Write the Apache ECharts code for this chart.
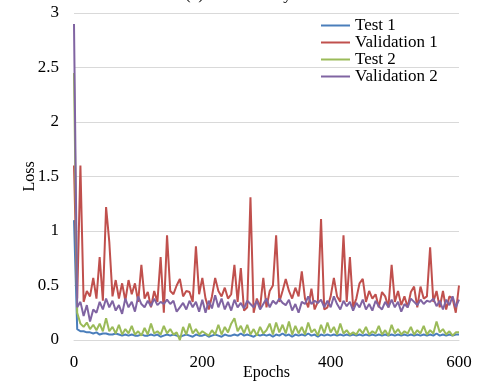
<!DOCTYPE html>
<html>
<head>
<meta charset="utf-8">
<script src="https://cdn.jsdelivr.net/npm/echarts@6/dist/echarts.min.js"></script>
<style>
  html, body { margin: 0; padding: 0; background: #fff; }
  #chart { width: 478px; height: 381px; }
</style>
</head>
<body>
<div id="chart"></div>
<script>
// loss per epoch, sampled every 5 epochs (0..600)
const EPOCHS = Array.from({ length: 121 }, (_, i) => i * 5);

const TEST_1 = [
  1.10, 0.10, 0.08, 0.08, 0.07, 0.07, 0.06, 0.07, 0.05, 0.06,
  0.06, 0.05, 0.05, 0.06, 0.05, 0.04, 0.05, 0.04, 0.05, 0.04,
  0.04, 0.05, 0.04, 0.04, 0.05, 0.04, 0.05, 0.03, 0.04, 0.05,
  0.04, 0.05, 0.04, 0.03, 0.04, 0.05, 0.04, 0.03, 0.05, 0.04,
  0.04, 0.05, 0.03, 0.04, 0.05, 0.04, 0.03, 0.05, 0.04, 0.04,
  0.05, 0.04, 0.06, 0.04, 0.05, 0.04, 0.03, 0.05, 0.04, 0.05,
  0.04, 0.05, 0.03, 0.05, 0.04, 0.06, 0.04, 0.05, 0.03, 0.05,
  0.04, 0.05, 0.04, 0.06, 0.04, 0.05, 0.03, 0.05, 0.04, 0.05,
  0.04, 0.05, 0.04, 0.05, 0.04, 0.05, 0.04, 0.05, 0.04, 0.05,
  0.04, 0.05, 0.04, 0.05, 0.04, 0.05, 0.04, 0.05, 0.04, 0.05,
  0.04, 0.05, 0.04, 0.05, 0.04, 0.05, 0.04, 0.05, 0.04, 0.05,
  0.04, 0.05, 0.04, 0.06, 0.04, 0.05, 0.04, 0.05, 0.04, 0.05,
  0.05
];

const VALIDATION_1 = [
  1.60, 0.38, 1.60, 0.35, 0.45, 0.40, 0.57, 0.38, 0.76, 0.36,
  1.22, 0.90, 0.40, 0.55, 0.38, 0.52, 0.36, 0.55, 0.42, 0.52,
  0.35, 0.69, 0.38, 0.44, 0.30, 0.45, 0.35, 0.76, 0.25, 0.96,
  0.45, 0.42, 0.50, 0.56, 0.40, 0.45, 0.44, 0.35, 0.86, 0.42,
  0.57, 0.38, 0.28, 0.40, 0.57, 0.45, 0.40, 0.48, 0.38, 0.42,
  0.69, 0.35, 0.66, 0.27, 0.30, 1.31, 0.25, 0.38, 0.30, 0.57,
  0.30, 0.45, 0.50, 0.96, 0.35, 0.45, 0.56, 0.45, 0.38, 0.48,
  0.40, 0.63, 0.38, 0.30, 0.47, 0.28, 0.35, 1.11, 0.28, 0.30,
  0.40, 0.57, 0.40, 0.35, 0.96, 0.35, 0.76, 0.30, 0.38, 0.52,
  0.56, 0.35, 0.45, 0.38, 0.42, 0.30, 0.44, 0.40, 0.30, 0.69,
  0.35, 0.45, 0.32, 0.40, 0.30, 0.44, 0.49, 0.30, 0.49, 0.38,
  0.40, 0.85, 0.35, 0.45, 0.30, 0.45, 0.28, 0.40, 0.38, 0.25,
  0.50
];

const TEST_2 = [
  2.45, 0.25, 0.15, 0.12, 0.16, 0.10, 0.14, 0.09, 0.15, 0.08,
  0.20, 0.08, 0.12, 0.06, 0.14, 0.05, 0.10, 0.06, 0.13, 0.05,
  0.08, 0.04, 0.11, 0.05, 0.15, 0.06, 0.08, 0.05, 0.13, 0.06,
  0.10, 0.05, 0.07, 0.00, 0.12, 0.05, 0.15, 0.06, 0.10, 0.05,
  0.08, 0.06, 0.04, 0.09, 0.05, 0.14, 0.05, 0.12, 0.07, 0.15,
  0.20, 0.08, 0.13, 0.06, 0.14, 0.05, 0.10, 0.04, 0.12, 0.06,
  0.09, 0.15, 0.05, 0.16, 0.07, 0.14, 0.06, 0.17, 0.05, 0.13,
  0.06, 0.12, 0.05, 0.16, 0.07, 0.10, 0.04, 0.14, 0.06, 0.16,
  0.07, 0.12, 0.05, 0.15, 0.06, 0.09, 0.05, 0.07, 0.05, 0.10,
  0.06, 0.12, 0.05, 0.08, 0.06, 0.13, 0.05, 0.09, 0.04, 0.14,
  0.06, 0.10, 0.05, 0.08, 0.06, 0.12, 0.05, 0.09, 0.06, 0.13,
  0.05, 0.09, 0.06, 0.17, 0.07, 0.10, 0.05, 0.08, 0.04, 0.07,
  0.07
];

const VALIDATION_2 = [
  2.90, 0.30, 0.35, 0.22, 0.32, 0.17, 0.28, 0.25, 0.35, 0.28,
  0.38, 0.30, 0.36, 0.27, 0.32, 0.24, 0.38, 0.30, 0.35, 0.26,
  0.40, 0.33, 0.30, 0.36, 0.31, 0.38, 0.32, 0.35, 0.33, 0.37,
  0.33, 0.36, 0.26, 0.30, 0.34, 0.28, 0.36, 0.30, 0.35, 0.26,
  0.37, 0.25, 0.36, 0.29, 0.41, 0.30, 0.38, 0.28, 0.35, 0.27,
  0.37, 0.30, 0.34, 0.29, 0.36, 0.33, 0.30, 0.36, 0.28, 0.33,
  0.38, 0.30, 0.36, 0.33, 0.38, 0.34, 0.32, 0.37, 0.27, 0.33,
  0.25, 0.35, 0.33, 0.40, 0.33, 0.36, 0.34, 0.37, 0.30, 0.36,
  0.30, 0.40, 0.33, 0.28, 0.36, 0.31, 0.35, 0.27, 0.34, 0.30,
  0.37, 0.28, 0.33, 0.27, 0.36, 0.31, 0.28, 0.35, 0.30, 0.37,
  0.30, 0.35, 0.26, 0.33, 0.30, 0.38, 0.35, 0.32, 0.37, 0.33,
  0.36, 0.35, 0.38, 0.31, 0.36, 0.28, 0.37, 0.32, 0.40, 0.30,
  0.37
];

const SERIES_NAMES = ["Test 1", "Validation 1", "Test 2", "Validation 2"];
const SERIES_DATA = [TEST_1, VALIDATION_1, TEST_2, VALIDATION_2];
const COLORS = ["#4a7ebb", "#c0504d", "#9bbb59", "#8064a2"];

const FONT = "'Liberation Serif', 'Times New Roman', serif";

const chart = echarts.init(document.getElementById("chart"), null, { renderer: "canvas" });

chart.setOption({
  animation: false,
  backgroundColor: "#fff",
  color: COLORS,
  title: {
    text: "(a) Loss history",
    left: 180,
    top: -19,
    textStyle: { fontFamily: FONT, fontSize: 17, fontWeight: "normal", color: "#000" }
  },
  grid: { left: 74, right: 19, top: 13, bottom: 41, outerBoundsMode: "none", containLabel: false },
  legend: {
    orient: "vertical",
    left: 316,
    top: 12,
    itemWidth: 29,
    itemHeight: 2,
    itemGap: 0,
    icon: "rect",
    textStyle: { fontFamily: FONT, fontSize: 17, color: "#000", lineHeight: 17 },
    data: SERIES_NAMES
  },
  xAxis: {
    type: "value",
    min: 0,
    max: 600,
    interval: 200,
    name: "Epochs",
    nameLocation: "middle",
    nameGap: 25,
    nameMoveOverlap: false,
    nameTextStyle: { fontFamily: FONT, fontSize: 16, color: "#000" },
    axisLine: { show: true, lineStyle: { color: "#d9d9d9" } },
    axisTick: { show: false },
    axisLabel: { fontFamily: FONT, fontSize: 17, color: "#000", margin: 14 },
    splitLine: { show: false }
  },
  yAxis: {
    type: "value",
    min: 0,
    max: 3,
    interval: 0.5,
    name: "Loss",
    nameLocation: "middle",
    nameGap: 36,
    nameRotate: 90,
    nameMoveOverlap: false,
    nameTextStyle: { fontFamily: FONT, fontSize: 16, color: "#000" },
    axisLine: { show: false },
    axisTick: { show: false },
    axisLabel: { fontFamily: FONT, fontSize: 17, color: "#000", margin: 15 },
    splitLine: { lineStyle: { color: "#d9d9d9", width: 1 } }
  },
  series: SERIES_NAMES.map((name, i) => ({
    name,
    type: "line",
    showSymbol: false,
    symbol: "none",
    lineStyle: { width: 2, color: COLORS[i] },
    data: EPOCHS.map((e, j) => [e, SERIES_DATA[i][j]])
  }))
});
</script>
</body>
</html>
